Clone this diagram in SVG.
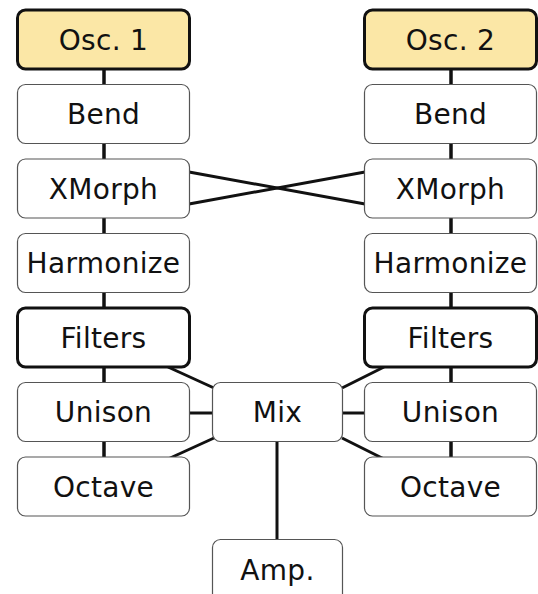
<svg xmlns="http://www.w3.org/2000/svg" width="538" height="594" viewBox="0 0 538 594">
  <style>
    .box { fill: #ffffff; stroke: #555555; stroke-width: 1.2; }
    .osc { fill: #fbe7a6; stroke: #111111; stroke-width: 3; }
    .strong { fill: #ffffff; stroke: #111111; stroke-width: 3; }
    .wire { stroke: #111111; stroke-width: 3; fill: none; }
    .vwire { stroke: #111111; stroke-width: 3.5; fill: none; }
    text { font-family: "DejaVu Sans", "Liberation Sans", sans-serif; font-size: 28px; fill: #111111; text-anchor: middle; letter-spacing: 0.3px; }
  </style>
  <rect width="538" height="594" fill="#ffffff"/>

  <g id="connectors">
    <!-- left chain -->
    <line class="vwire" x1="104" y1="69" x2="104" y2="84"/>
    <line class="vwire" x1="104" y1="143" x2="104" y2="159"/>
    <line class="vwire" x1="104" y1="218" x2="104" y2="233"/>
    <line class="vwire" x1="104" y1="292" x2="104" y2="308"/>
    <line class="vwire" x1="104" y1="367" x2="104" y2="382"/>
    <line class="vwire" x1="104" y1="442" x2="104" y2="457"/>
    <!-- right chain -->
    <line class="vwire" x1="451" y1="69" x2="451" y2="84"/>
    <line class="vwire" x1="451" y1="143" x2="451" y2="159"/>
    <line class="vwire" x1="451" y1="218" x2="451" y2="233"/>
    <line class="vwire" x1="451" y1="292" x2="451" y2="308"/>
    <line class="vwire" x1="451" y1="367" x2="451" y2="382"/>
    <line class="vwire" x1="451" y1="442" x2="451" y2="457"/>
    <!-- XMorph cross -->
    <line class="wire" x1="189" y1="172" x2="365" y2="204"/>
    <line class="wire" x1="189" y1="204" x2="365" y2="172"/>
    <!-- into Mix -->
    <line class="wire" x1="168" y1="367" x2="214" y2="388"/>
    <line class="wire" x1="189" y1="413" x2="214" y2="413"/>
    <line class="wire" x1="168" y1="459" x2="214" y2="438"/>
    <line class="wire" x1="342" y1="388" x2="384" y2="367"/>
    <line class="wire" x1="342" y1="413" x2="365" y2="413"/>
    <line class="wire" x1="342" y1="438" x2="384" y2="459"/>
    <!-- Mix to Amp -->
    <line class="wire" x1="277" y1="442" x2="277" y2="540"/>
  </g>

  <g id="osc1"><rect class="osc" x="17.5" y="10" width="172" height="59" rx="8"/><text x="103.5" y="49.5">Osc. 1</text></g>
  <g id="bend1"><rect class="box" x="17.5" y="84.5" width="172" height="59" rx="8"/><text x="103.5" y="124">Bend</text></g>
  <g id="xmorph1"><rect class="box" x="17.5" y="159" width="172" height="59" rx="8"/><text x="103.5" y="198.5">XMorph</text></g>
  <g id="harmonize1"><rect class="box" x="17.5" y="233.5" width="172" height="59" rx="8"/><text x="103.5" y="273">Harmonize</text></g>
  <g id="filters1"><rect class="strong" x="17.5" y="308" width="172" height="59" rx="8"/><text x="103.5" y="347.5">Filters</text></g>
  <g id="unison1"><rect class="box" x="17.5" y="382.5" width="172" height="59" rx="8"/><text x="103.5" y="422">Unison</text></g>
  <g id="octave1"><rect class="box" x="17.5" y="457" width="172" height="59" rx="8"/><text x="103.5" y="496.5">Octave</text></g>

  <g id="osc2"><rect class="osc" x="364.5" y="10" width="172" height="59" rx="8"/><text x="450.5" y="49.5">Osc. 2</text></g>
  <g id="bend2"><rect class="box" x="364.5" y="84.5" width="172" height="59" rx="8"/><text x="450.5" y="124">Bend</text></g>
  <g id="xmorph2"><rect class="box" x="364.5" y="159" width="172" height="59" rx="8"/><text x="450.5" y="198.5">XMorph</text></g>
  <g id="harmonize2"><rect class="box" x="364.5" y="233.5" width="172" height="59" rx="8"/><text x="450.5" y="273">Harmonize</text></g>
  <g id="filters2"><rect class="strong" x="364.5" y="308" width="172" height="59" rx="8"/><text x="450.5" y="347.5">Filters</text></g>
  <g id="unison2"><rect class="box" x="364.5" y="382.5" width="172" height="59" rx="8"/><text x="450.5" y="422">Unison</text></g>
  <g id="octave2"><rect class="box" x="364.5" y="457" width="172" height="59" rx="8"/><text x="450.5" y="496.5">Octave</text></g>

  <g id="mix"><rect class="box" x="212.5" y="382.5" width="130" height="59" rx="8"/><text x="277.5" y="422">Mix</text></g>
  <g id="amp"><rect class="box" x="212.5" y="539.5" width="130" height="70" rx="8"/><text x="277.5" y="580">Amp.</text></g>
</svg>
